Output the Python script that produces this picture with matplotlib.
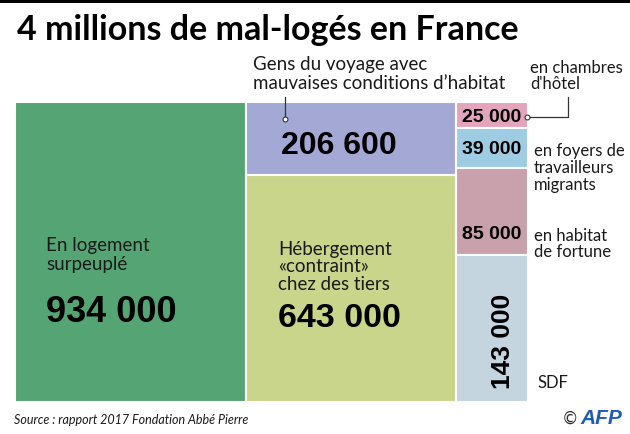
import matplotlib
matplotlib.use("Agg")
import matplotlib.pyplot as plt
from matplotlib.patches import Rectangle

# Data (treemap, slice-and-dice: columns then stacked cells)
values = [934000, 206600, 643000, 25000, 39000, 85000, 143000]
columns = [0, 1, 1, 2, 2, 2, 2]
colors = ["#55a574", "#a4a8d5", "#c9d58b", "#e3a4bc", "#9ecce2", "#c9a1ac", "#c4d5df"]
value_labels = ["934 000", "206 600", "643 000", "25 000", "39 000", "85 000", "143 000"]

W, H = 630, 435
fig = plt.figure(figsize=(W / 100, H / 100), dpi=100)

def px(x, y):
    # pixel coords (from top-left) -> figure fraction
    return x / W, 1 - y / H

# treemap axes
x0, y0, x1, y1 = 15, 103, 528, 403
ax = fig.add_axes([x0 / W, 1 - y1 / H, (x1 - x0) / W, (y1 - y0) / H])
total = sum(values)
ax.set_xlim(0, total)
ax.set_ylim(1, 0)
ax.axis("off")

# compute layout
col_sums = {}
for v, c in zip(values, columns):
    col_sums[c] = col_sums.get(c, 0) + v
col_start = {}
acc = 0
for c in sorted(col_sums):
    col_start[c] = acc
    acc += col_sums[c]
col_fill = {c: 0.0 for c in col_sums}
for v, c, col in zip(values, columns, colors):
    h = v / col_sums[c]
    ax.add_patch(Rectangle((col_start[c], col_fill[c]), col_sums[c], h,
                           facecolor=col, edgecolor="white", linewidth=1.5))
    col_fill[c] += h

# title
fig.patches.append(Rectangle((0, 1 - 4 / H), 1, 4 / H, transform=fig.transFigure,
                             facecolor="black", edgecolor="none"))
fig.text(*px(17, 30), "4 millions de mal-logés en France", fontsize=24.5,
         fontweight="bold", family="Lato", va="center", ha="left")

lab = dict(family="Lato", fontsize=13.5, color="#1a1a1a", linespacing=1.1)
side = dict(family="Lato", fontsize=12, color="#1a1a1a", linespacing=1.05)
num = dict(family="Liberation Sans", fontweight="bold", color="black")

# big cells
fig.text(*px(46, 255), "En logement\nsurpeuplé", va="center", ha="left", **lab)
fig.text(*px(46, 313), value_labels[0], fontsize=26, va="center", ha="left", **num)

fig.text(*px(253, 74), "Gens du voyage avec\nmauvaises conditions d\u2019habitat",
         va="center", ha="left", **lab)
fig.text(*px(281, 146), value_labels[1], fontsize=23, va="center", ha="left", **num)

fig.text(*px(278, 267), "Hébergement\n«contraint»\nchez des tiers",
         va="center", ha="left", linespacing=1.0,
         **{k: v for k, v in lab.items() if k != "linespacing"})
fig.text(*px(278, 319), value_labels[2], fontsize=24.5, va="center", ha="left", **num)

# small cells
fig.text(*px(462, 118), value_labels[3], fontsize=14, va="center", ha="left", **num)
fig.text(*px(462, 149), value_labels[4], fontsize=14, va="center", ha="left", **num)
fig.text(*px(462, 235), value_labels[5], fontsize=14, va="center", ha="left", **num)
fig.text(*px(503, 341), value_labels[6], fontsize=19, va="center", ha="center",
         rotation=90, **num)

fig.text(*px(530, 76), "en chambres\nd'hôtel", va="center", ha="left", **side)
fig.text(*px(534, 168), "en foyers de\ntravailleurs\nmigrants", va="center", ha="left", **side)
fig.text(*px(534, 244), "en habitat\nde fortune", va="center", ha="left", **side)
fig.text(*px(537, 383), "SDF", va="center", ha="left", **side)

# leader lines
line_kw = dict(color="#333333", linewidth=0.9, transform=fig.transFigure)
mark_kw = dict(marker="o", markersize=3.5, markerfacecolor="white",
               markeredgecolor="#333333", markeredgewidth=0.8, transform=fig.transFigure)
fig.add_artist(plt.Line2D(*zip(px(285, 98), px(285, 120)), **line_kw))
fig.add_artist(plt.Line2D(*zip(px(285, 120),), **mark_kw))
fig.add_artist(plt.Line2D(*zip(px(527, 118), px(568, 118), px(568, 98)), **line_kw))
fig.add_artist(plt.Line2D(*zip(px(527, 118),), **mark_kw))

# footer
fig.text(*px(14, 420), "Source : rapport 2017 Fondation Abbé Pierre", fontsize=9,
         style="italic", family="Lato", color="#1a1a1a", va="center", ha="left")
fig.text(*px(562, 419), "©", fontsize=12, family="DejaVu Sans", color="#333333",
         va="center", ha="left")
fig.text(*px(580, 419), "AFP", fontsize=15, family="Liberation Sans", fontweight="bold",
         style="italic", color="#1f5cb4", va="center", ha="left")

fig.savefig("out.png", dpi=100)
